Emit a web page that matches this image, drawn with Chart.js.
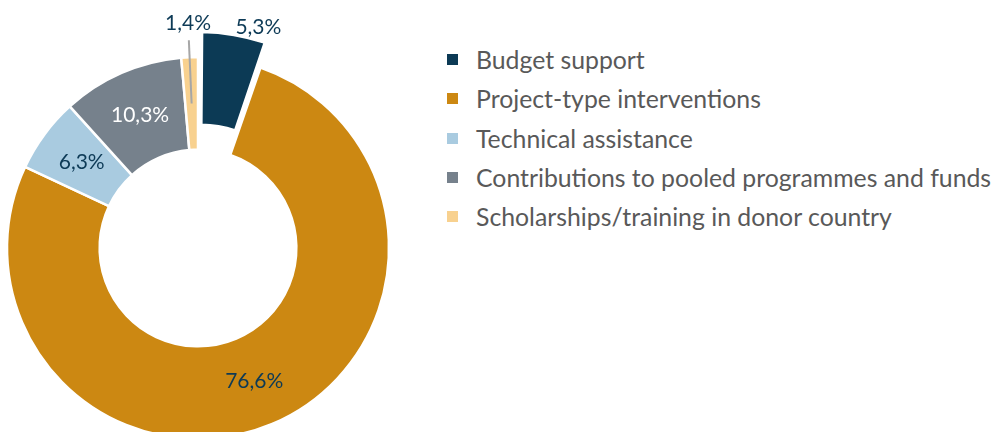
<!DOCTYPE html>
<html>
<head>
<meta charset="utf-8">
<script src="https://cdn.jsdelivr.net/npm/chart.js@4/dist/chart.umd.min.js"></script>
<style>
  html, body { margin: 0; padding: 0; background: #fff; }
  body { width: 998px; height: 432px; overflow: hidden; position: relative; font-family: Lato, sans-serif; }
  #wrap { position: absolute; left: -12px; top: 0; width: 420px; height: 496px; }
  #legend { position: absolute; left: 447px; top: 40px; }
  .row { height: 39.3px; display: flex; align-items: center; font-size: 24.8px; color: #595959; white-space: nowrap; }
  .box { width: 11px; height: 11px; margin-right: 18px; }
</style>
</head>
<body>
<div id="wrap"><canvas id="chart" width="420" height="496"></canvas></div>
<div id="legend"></div>
<script>
const categories = ['Budget support', 'Project-type interventions', 'Technical assistance', 'Contributions to pooled programmes and funds', 'Scholarships/training in donor country']
const values = [5.3, 76.6, 6.3, 10.3, 1.4]
const colors = ['#0c3a55', '#cc8812', '#a9cbe0', '#76818c', '#f8d18f']
const labelColors = ['#0d3a56', '#0d3a56', '#0d3a56', '#ffffff', '#0d3a56']
const labelMode = ['corner', 'inside', 'inside', 'inside', 'leader']
const offsets = [60, 0, 0, 0, 0]

// legend
const legend = document.getElementById('legend')
categories.forEach((c, i) => {
  const row = document.createElement('div')
  row.className = 'row'
  row.innerHTML = '<span class="box" style="background:' + colors[i] + '"></span><span>' + c + '</span>'
  legend.appendChild(row)
})

const pctLabels = {
  id: 'pctLabels',
  afterDatasetsDraw(chart) {
    const ctx = chart.ctx
    const meta = chart.getDatasetMeta(0)
    ctx.save()
    ctx.font = '21px Lato'
    ctx.textAlign = 'center'
    ctx.textBaseline = 'middle'
    meta.data.forEach((arc, i) => {
      const p = arc.getProps(['x', 'y', 'startAngle', 'endAngle', 'innerRadius', 'outerRadius'])
      const off = (arc.options.offset || 0) / 4
      const circ = p.endAngle - p.startAngle
      // same shift the arc element applies when it is offset
      const push = off * (2 - Math.sin(Math.min(Math.PI, circ)))
      const text = values[i].toFixed(1).replace('.', ',') + '%'
      const at = (ang, r) => [p.x + Math.cos(ang) * r, p.y + Math.sin(ang) * r]
      const mid = (p.startAngle + p.endAngle) / 2
      ctx.fillStyle = labelColors[i]
      if (labelMode[i] === 'inside') {
        const [x, y] = at(mid, (p.innerRadius + p.outerRadius) / 2 + push)
        ctx.fillText(text, x, y)
      } else if (labelMode[i] === 'corner') {
        const ang = p.startAngle + circ * 0.8
        const [x, y] = at(ang, p.outerRadius + push + 13)
        ctx.fillText(text, x, y)
      } else {
        const [x1, y1] = at(mid, (p.innerRadius + p.outerRadius) / 2)
        const [x2, y2] = at(mid, p.outerRadius + 17)
        ctx.strokeStyle = '#a6a6a6'
        ctx.lineWidth = 2
        ctx.beginPath()
        ctx.moveTo(x1, y1)
        ctx.lineTo(x2, y2)
        ctx.stroke()
        const [x, y] = at(mid, p.outerRadius + 34)
        ctx.fillText(text, x, y)
      }
    })
    ctx.restore()
  }
}

new Chart(document.getElementById('chart'), {
  type: 'doughnut',
  data: {
    labels: categories,
    datasets: [{
      data: values,
      backgroundColor: colors,
      borderColor: '#ffffff',
      borderWidth: 2.5,
      offset: offsets
    }]
  },
  options: {
    responsive: false,
    animation: false,
    devicePixelRatio: 1,
    radius: 191,
    cutout: '51.5%',
    layout: { padding: 0 },
    plugins: {
      legend: { display: false },
      tooltip: { enabled: false }
    }
  },
  plugins: [pctLabels]
})
</script>
</body>
</html>
